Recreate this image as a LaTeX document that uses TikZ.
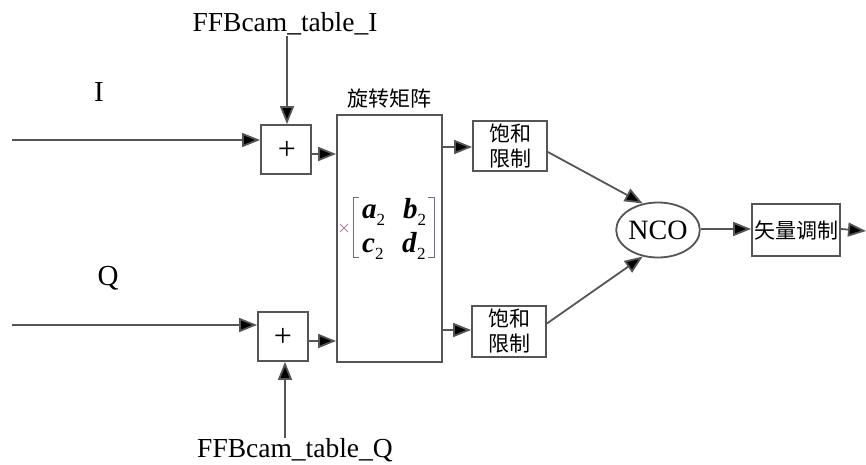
\documentclass[tikz,border=0pt]{standalone}
\usepackage{fontspec}
\setmainfont{Liberation Serif}
\newfontfamily\cjk{Noto Sans CJK SC}
\usetikzlibrary{arrows.meta,shapes.geometric}
\definecolor{ln}{HTML}{555555}
\definecolor{brk}{HTML}{6A6A8A}
\definecolor{crs}{HTML}{B080A0}
\newcommand{\ent}[1]{\textbf{\textit{#1}}\raisebox{-0.25em}{\fontsize{17}{17}\selectfont 2}}
\begin{document}
\begin{tikzpicture}[x=1pt,y=-1pt,
  blk/.style={draw=ln,line width=1.8pt,fill=white,inner sep=0pt},
  arr/.style={draw=ln,line width=1.8pt,-{Triangle[length=18pt,width=14pt,fill=black]}},
  lat/.style={font=\fontsize{27.5}{27.5}\selectfont,inner sep=0pt},
  zh/.style={font=\cjk\fontsize{21}{25}\selectfont,inner sep=0pt,align=center},
  mt/.style={font=\fontsize{29}{29}\selectfont,inner sep=0pt,anchor=base west}]
\useasboundingbox (0,0) rectangle (866,465);
% blocks
\node[blk,minimum width=50pt,minimum height=49pt] (add1) at (286,149.5) {};
\node[lat,font=\fontsize{32}{32}\selectfont] (p1) at (287,150) {+};
\node[blk,minimum width=50pt,minimum height=49pt] (add2) at (283,336.5) {};
\node[lat,font=\fontsize{32}{32}\selectfont] (p2) at (283,337) {+};
\node[blk,minimum width=105pt,minimum height=247pt] (mat) at (389.5,238.5) {};
\node[zh] (matt) at (389,99) {旋转矩阵};
\node[blk,minimum width=74pt,minimum height=50pt,zh] (sat1) at (510,146) {饱和\\限制};
\node[blk,minimum width=74pt,minimum height=51pt,zh] (sat2) at (509,331.5) {饱和\\限制};
\node[blk,ellipse,minimum width=81pt,minimum height=55pt,font=\fontsize{28}{28}\selectfont] (nco) at (658,230) {NCO};
\node[blk,minimum width=88pt,minimum height=52pt,zh] (vec) at (796,230) {矢量调制};
% matrix content
\node[mt] (a2) at (362,218) {\ent{a}};
\node[mt] (b2) at (403,218) {\ent{b}};
\node[mt] (c2) at (362,252) {\ent{c}};
\node[mt] (d2) at (402,252) {\ent{d}};
\draw[brk,line width=1pt] (359,197) -- (353,197) -- (353,257) -- (359,257);
\draw[brk,line width=1pt] (428,197) -- (434,197) -- (434,257) -- (428,257);
\draw[crs,line width=1pt] (340,224) -- (348,232) (340,232) -- (348,224);
% labels
\node[lat,font=\fontsize{29}{29}\selectfont] (lI) at (99,92) {I};
\node[lat,font=\fontsize{29}{29}\selectfont] (lQ) at (108,278) {Q};
\node[lat,anchor=base] (ffbi) at (285,32) {FFBcam\_table\_I};
\node[lat,anchor=base] (ffbq) at (295,457) {FFBcam\_table\_Q};
% free ends
\coordinate (Iin) at (12,140);
\coordinate (Qin) at (12,325);
\coordinate (fi) at (287,36);
\coordinate (fq) at (285,438);
\coordinate (out) at (866,231);
% connectors
\draw[arr] (Iin) -- (Iin -| add1.west);
\draw[arr] (Qin) -- (Qin -| add2.west);
\draw[arr] (fi) -- (fi |- add1.north);
\draw[arr] (fq) -- (fq |- add2.south);
\draw[arr] ([yshift=-4.5pt]add1.east) -- ([yshift=-4.5pt]add1.east -| mat.west);
\draw[arr] ([yshift=-4.5pt]add2.east) -- ([yshift=-4.5pt]add2.east -| mat.west);
\draw[arr] ([yshift=-1pt]sat1.west -| mat.east) -- ([yshift=-1pt]sat1.west);
\draw[arr] ([yshift=1.5pt]sat2.west -| mat.east) -- ([yshift=1.5pt]sat2.west);
\draw[arr] ([yshift=-6pt]sat1.east) -- (nco.120);
\draw[arr] ([yshift=8pt]sat2.east) -- (nco.240);
\draw[arr] ([yshift=1pt]nco.east) -- ([yshift=1pt]vec.west);
\draw[arr] ([yshift=1pt]vec.east) -- (out);
\end{tikzpicture}
\end{document}
